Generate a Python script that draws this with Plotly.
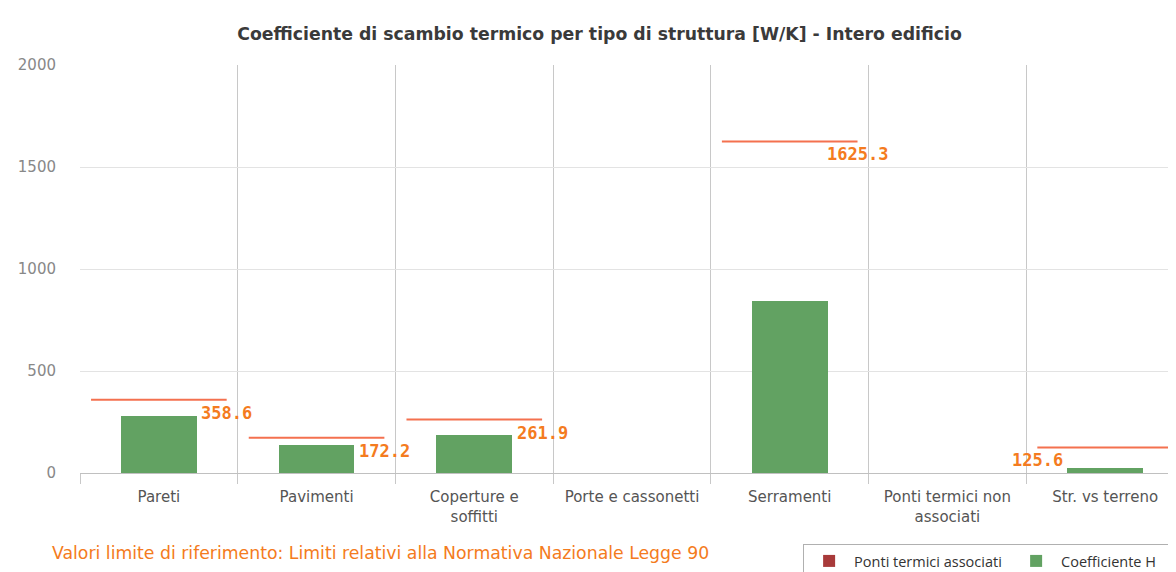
import plotly.graph_objects as go

categories = ["Pareti", "Pavimenti", "Coperture e<br>soffitti", "Porte e cassonetti",
              "Serramenti", "Ponti termici non<br>associati", "Str. vs terreno"]
coeff_h = [278, 135, 188, 0, 843, 0, 25]
ponti_associati = [0, 0, 0, 0, 0, 0, 0]
limits = [358.6, 172.2, 261.9, None, 1625.3, None, 125.6]
label_side = ["right", "right", "right", None, "right", None, "left"]
y_ticks = [0, 500, 1000, 1500, 2000]

xs = list(range(len(categories)))
half = 0.43

fig = go.Figure()
fig.add_trace(go.Bar(x=xs, y=ponti_associati, name="Ponti termici associati",
                     marker=dict(color="#a83a3a", line=dict(width=0)), width=0.48))
fig.add_trace(go.Bar(x=xs, y=coeff_h, name="Coefficiente H",
                     marker=dict(color="#62a262", line=dict(width=0)), width=0.48))

lx, ly = [], []
for i, v in enumerate(limits):
    if v is None:
        continue
    lx += [i - half, i + half, None]
    ly += [v, v, None]
fig.add_trace(go.Scatter(x=lx, y=ly, mode="lines", line=dict(color="#f4714f", width=2),
                         showlegend=False, hoverinfo="skip"))

for i, v in enumerate(limits):
    if v is None:
        continue
    xpos = i + half if label_side[i] == "right" else i - half
    fig.add_annotation(x=xpos, y=v, text=f"{v:.1f}", showarrow=False, xanchor="center",
                       yanchor="middle", yshift=-13,
                       font=dict(family="DejaVu Sans Mono", size=17, color="#f47b20", weight="bold"))

fig.add_annotation(xref="paper", yref="paper", x=-0.027, y=-0.196, xanchor="left", yanchor="middle",
                   text="Valori limite di riferimento: Limiti relativi alla Normativa Nazionale Legge 90",
                   showarrow=False, font=dict(family="DejaVu Sans", size=17.3, color="#f47b20"))

fig.update_layout(
    width=1176, height=572,
    margin=dict(l=72, r=0, t=57, b=107, autoexpand=False),
    plot_bgcolor="white", paper_bgcolor="white",
    barmode="stack",
    title=dict(text="Coefficiente di scambio termico per tipo di struttura [W/K] - Intero edificio",
               x=0.503, xref="container", y=1 - 26 / 572, yanchor="middle", xanchor="center",
               font=dict(family="DejaVu Sans", size=17.3, color="#3a3a3a", weight="bold")),
    xaxis=dict(range=[-0.5, len(categories) - 0.5], tickvals=xs, ticktext=categories,
               showgrid=False, zeroline=False, showline=True, linecolor="#c0c0c0",
               ticks="", ticklabelstandoff=10, automargin=False,
               tickfont=dict(family="DejaVu Sans", size=15, color="#555555"),
               minor=dict(tickvals=[i - 0.5 for i in range(len(categories) + 1)], showgrid=True,
                          gridcolor="#c8c8c8", gridwidth=1, ticks="outside", ticklen=10,
                          tickcolor="#c8c8c8")),
    yaxis=dict(range=[0, 2000], tickvals=y_ticks, showgrid=True, gridcolor="#e3e3e3",
               zeroline=False, showline=False, ticks="", ticklabelstandoff=23, automargin=False,
               tickfont=dict(family="DejaVu Sans", size=15, color="#888888")),
    legend=dict(orientation="h", x=0.655, y=-0.174, xanchor="left", yanchor="top",
                traceorder="normal", entrywidth=152, entrywidthmode="pixels", itemwidth=40,
                bordercolor="#b0b0b0", borderwidth=1, bgcolor="white",
                font=dict(family="Open Sans", size=14.5, color="#333333")),
    bargap=0.5,
)

fig.write_html("out.html")
